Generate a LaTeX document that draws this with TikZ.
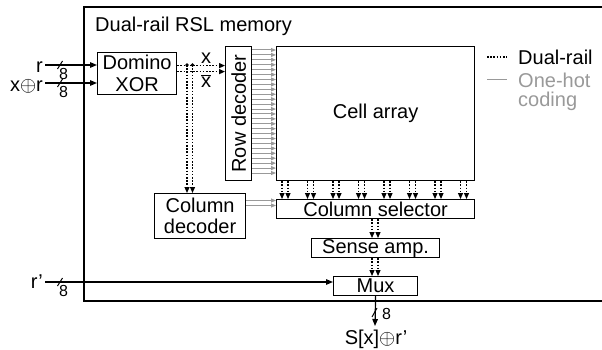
\documentclass[tikz,border=0pt]{standalone}
\usepackage{fontspec}
\setmainfont{Liberation Sans}
\usetikzlibrary{arrows.meta}
\definecolor{hotgray}{gray}{0.6}
\begin{document}
\begin{tikzpicture}[x=1pt,y=-1pt,
  font=\fontsize{20}{21.5}\selectfont,
  blk/.style={draw, line width=1.2pt, inner sep=0pt, anchor=north west, align=center},
  arr/.style={line width=1.2pt, -{Triangle[length=7pt,width=5.5pt]}},
  dual/.style={line width=1.2pt, dash pattern=on 1.6pt off 1.6pt},
  darr/.style={dual, -{Triangle[length=6pt,width=5pt]}},
  harr/.style={draw=hotgray, line width=1pt, -{Triangle[length=5pt,width=4pt]}},
  small/.style={font=\fontsize{16}{18}\selectfont, inner sep=0pt},
  lab/.style={inner sep=0pt},
]
\useasboundingbox (0,0) rectangle (602,350);
% outer frame
\draw[line width=1.2pt] (84,7) rectangle (612,301);
\node[lab, anchor=base west] (title) at (95,32) {Dual-rail RSL memory};

% blocks
\node[blk, minimum width=79pt, minimum height=42pt] (xor) at (97,52) {Domino\\XOR};
\node[blk, minimum width=26pt, minimum height=134pt] (rowdec) at (225,46) {\rotatebox{90}{Row decoder}};
\node[blk, minimum width=198pt, minimum height=134pt] (cell) at (276,46) {Cell array};
\node[blk, minimum width=91pt, minimum height=45pt] (coldec) at (154,193) {Column\\decoder};
\node[blk, minimum width=198pt, minimum height=19pt] (colsel) at (276,199) {Column selector};
\node[blk, minimum width=128pt, minimum height=19pt] (sense) at (311,238) {Sense amp.};
\node[blk, minimum width=84pt, minimum height=19pt] (mux) at (333,276) {Mux};

% inputs
\coordinate (rin) at (45,65);
\coordinate (xrin) at (45,83);
\coordinate (rpin) at (45,282);
\draw[arr] (rin) -- (xor.west |- rin);
\draw[arr] (xrin) -- (xor.west |- xrin);
\draw[arr] (rpin) -- (mux.west |- rpin);
\node[lab, anchor=base east] (rl) at (43,73) {r};
\node[lab, anchor=base east] (xrl) at (43,91.5) {x$\oplus$r};
\node[lab, anchor=base east] (rpl) at (43,288.5) {r’};
\draw[line width=1pt] (57.5,69) -- (62.5,61);
\node[small] (n1) at (63.5,73.5) {8};
\draw[line width=1pt] (57.5,87) -- (62.5,79);
\node[small] (n2) at (63.5,91.5) {8};
\draw[line width=1pt] (57.5,286) -- (62.5,278);
\node[small] (n3) at (63.5,290.5) {8};

% output
\coordinate (out) at (375,326);
\draw[arr] (mux.south) -- (out);
\draw[line width=1pt] (372,317) -- (377,308);
\node[small] (n4) at (386.5,314) {8};
\node[lab, anchor=north] (sx) at (376,330) {S[x]$\oplus$r’};

% dual-rail from XOR
\path (xor.east) ++(0,-8) coordinate (xo);
\path (xor.east) ++(0,-2) coordinate (xbo);
\draw[darr] (xo) -- (rowdec.west |- xo);
\draw[darr] (xbo) -- (rowdec.west |- xbo);
\coordinate (d1) at (187,65);
\coordinate (d2) at (192.5,65);
\fill (d1) circle (1.9pt);
\fill (d2) circle (1.9pt);
\draw[darr] (d1) -- (d1 |- coldec.north);
\draw[darr] (d2) -- (d2 |- coldec.north);
\node[lab] (xl) at (206,58.5) {x};
\node[lab] (xbl) at (206,81) {$\overline{\mbox{x}}$};

% one-hot from row decoder
\foreach \i in {0,...,25} {
  \path (0,{50+4.92*\i}) coordinate (g);
  \draw[harr] (rowdec.east |- g) -- (cell.west |- g);
}
% one-hot from column decoder
\foreach \yy in {200.5,205.5} {
  \path (0,\yy) coordinate (h);
  \draw[harr] (coldec.east |- h) -- (colsel.west |- h);
}
% dual-rail from cell array to column selector
\foreach \k in {0,...,7} {
  \foreach \dx in {-3,3} {
    \path ({285+25.5*\k+\dx},0) coordinate (p);
    \draw[darr] (p |- cell.south) -- (p |- colsel.north);
  }
}
\foreach \xx in {372,378} {
  \path (\xx,0) coordinate (q);
  \draw[darr] (q |- colsel.south) -- (q |- sense.north);
  \draw[darr] (q |- sense.south) -- (q |- mux.north);
}

% legend
\coordinate (l1a) at (487,57);
\coordinate (l1b) at (507,57);
\draw[dual] (l1a) -- (l1b);
\node[lab, anchor=west] (lg1) at (518,57.5) {Dual-rail};
\coordinate (l2a) at (487,80);
\coordinate (l2b) at (507,80);
\draw[hotgray, line width=1pt] (l2a) -- (l2b);
\node[lab, anchor=north west, align=left, text=hotgray, font=\fontsize{20}{18.5}\selectfont] (lg2) at (518,73) {One-hot\\coding};
\end{tikzpicture}
\end{document}
